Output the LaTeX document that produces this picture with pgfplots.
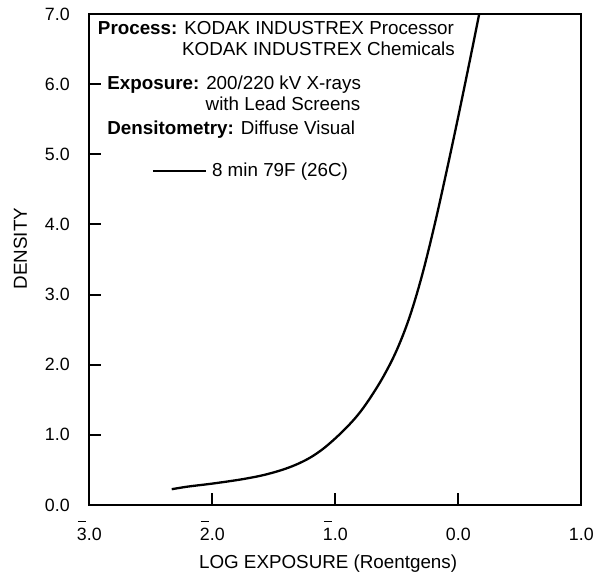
\documentclass[border=0pt]{standalone}
\usepackage{pgfplots}
\pgfplotsset{compat=1.18}
\usepackage{fontspec}
\setmainfont{Liberation Sans}

% digit with a bar over it (negative characteristic of a log)
\newcommand\bd[1]{\leavevmode\makebox[0pt][l]{\hspace{0.5pt}\rule[9.6pt]{3.8pt}{0.55pt}}#1}
\newcommand\lbl{\fontsize{9.4}{11}\selectfont}

\begin{document}
\begin{tikzpicture}
\begin{axis}[
    name=ax,
    scale only axis,
    width=246pt, height=245.5pt,
    xmin=-3, xmax=1,
    ymin=0, ymax=7,
    xtick={-3,-2,-1,0,1},
    xticklabels={\bd{3}.0,\bd{2}.0,\bd{1}.0,0.0,1.0},
    ytick={0,1,2,3,4,5,6,7},
    yticklabels={0.0,1.0,2.0,3.0,4.0,5.0,6.0,7.0},
    tick pos=left,
    tick align=inside,
    major tick length=5.75pt,
    tick style={line width=1pt, black},
    axis line style={line width=1pt},
    every tick label/.append style={font=\fontsize{8.9}{10}\selectfont, inner sep=0pt},
    xticklabel style={anchor=base, yshift=-18pt},
    yticklabel style={anchor=east, xshift=-9.6pt},
    xlabel={LOG EXPOSURE (Roentgens)},
    ylabel={DENSITY},
    xlabel style={font=\lbl, at={(axis description cs:0.5,0)}, anchor=base, yshift=-31.75pt, xshift=-3.6pt, inner sep=0pt},
    ylabel style={font=\lbl, at={(axis description cs:-0.1401,0.5224)}, anchor=center, inner sep=0pt},
    legend style={draw=none, fill=none, inner sep=0pt, outer sep=0pt,
        at={(axis description cs:0.1273,0.680)}, anchor=west,
        font=\lbl, nodes={inner sep=0pt}},
    legend image code/.code={
        \draw[line width=1pt] (0pt,0pt) -- (26.3pt,0pt);
        \path (29pt,0pt);
    },
]

\addplot[black, line width=1.15pt, smooth, tension=0.6] coordinates {
    (-2.33,0.225) (-2.2,0.262) (-2.0,0.305) (-1.8,0.355) (-1.7,0.385)
    (-1.6,0.42) (-1.5,0.465) (-1.4,0.52) (-1.3,0.59) (-1.2,0.68)
    (-1.1,0.80) (-1.0,0.95) (-0.9,1.12) (-0.8,1.32) (-0.7,1.57)
    (-0.6,1.86) (-0.5,2.21) (-0.4,2.66) (-0.3,3.24) (-0.2,3.94)
    (-0.1,4.72) (0.0,5.54) (0.1,6.39) (0.17,7.0)
};
\addlegendentry{8 min 79F (26C)}

\end{axis}

% annotation block, placed from the axis' lower left corner
\begin{scope}[shift={(ax.south west)}, every node/.style={font=\lbl, inner sep=0pt}]
\node[anchor=base west] at (4.15pt,235.25pt) {\textbf{Process:} KODAK INDUSTREX Processor};
\node[anchor=base west] at (46.25pt,224.75pt) {KODAK INDUSTREX Chemicals};
\node[anchor=base west] at (8.85pt,207.5pt) {\textbf{Exposure:} 200/220 kV X-rays};
\node[anchor=base west] at (58pt,197.35pt) {with Lead Screens};
\node[anchor=base west] at (8.85pt,185pt) {\textbf{Densitometry:} Diffuse Visual};
\end{scope}

\pgfresetboundingbox
\path (ax.south west) ++(-44.65pt,-34pt) rectangle ++(300.5pt,286.5pt);
\end{tikzpicture}
\end{document}
